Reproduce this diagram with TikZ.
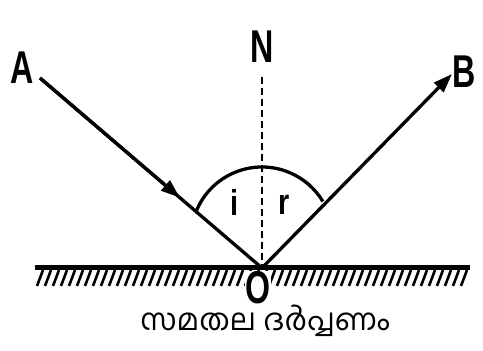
\documentclass[tikz,border=0pt]{standalone}
\usepackage{fontspec}
\setsansfont{Liberation Sans}
\newfontfamily\mlfont[Script=Malayalam]{Hind Kochi}
\usepackage{tikz}
\usetikzlibrary{calc, arrows.meta}

\begin{document}
\begin{tikzpicture}[x=1pt, y=1pt, line join=round,
    ray/.style={line width=3.3pt},
    mirror/.style={line width=5pt},
    hatchline/.style={line width=2.6pt},
    tip/.style={-{Triangle[length=19pt, width=13pt]}},
    letter/.style={font=\sffamily\bfseries\fontsize{46}{46}\selectfont, xscale=0.7, inner sep=0pt},
    angletext/.style={font=\sffamily\bfseries\fontsize{36}{36}\selectfont, xscale=0.8, inner sep=0pt}]

    \useasboundingbox (0,0) rectangle (483,351);

    % O on the mirror, A and B are the free ends of the two rays.
    \coordinate (O) at (262,83);
    \coordinate (Aend) at (40,273);
    \coordinate (Bend) at (452,277);
    \coordinate (Ntop) at (262,274);
    \coordinate (Mleft) at (35,83);
    \coordinate (Mright) at (470,83);

    % ==========================================
    % MIRROR AND HATCHING
    % ==========================================

    \foreach \x in {37,45,...,465}
        \draw[hatchline] (\x,65) -- ++(6,16);
    \draw[mirror] (Mleft) -- (Mright);

    % ==========================================
    % NORMAL, RAYS AND ANGLE ARC
    % ==========================================

    \draw[line width=2.2pt, dash pattern=on 7pt off 4pt] (Ntop) -- (O);

    % incident ray, arrow part way along
    \draw[ray] (Aend) -- (O);
    \draw[ray, tip] (Aend) -- ($(Aend)!0.63!(O)$);
    % reflected ray
    \draw[ray, tip] (O) -- (Bend);

    % arc over the two angles
    \draw[ray] ($(262,113)+(157:71)$) arc[start angle=157, end angle=31, radius=71];

    % ==========================================
    % LABELS
    % ==========================================

    \node[letter] (A) at (22,283) {A};
    \node[letter] (B) at (464,279) {B};
    \node[letter] (N) at (262,304) {N};
    \node[letter, fill=white, inner sep=1pt] (Olabel) at (258,63) {O};
    \node[angletext] (i) at (234,149) {i};
    \node[angletext] (r) at (284,146) {r};

    \node (caption) at (265,30) {\mlfont\fontsize{30}{30}\selectfont സമതല ദർപ്പണം};

\end{tikzpicture}
\end{document}
